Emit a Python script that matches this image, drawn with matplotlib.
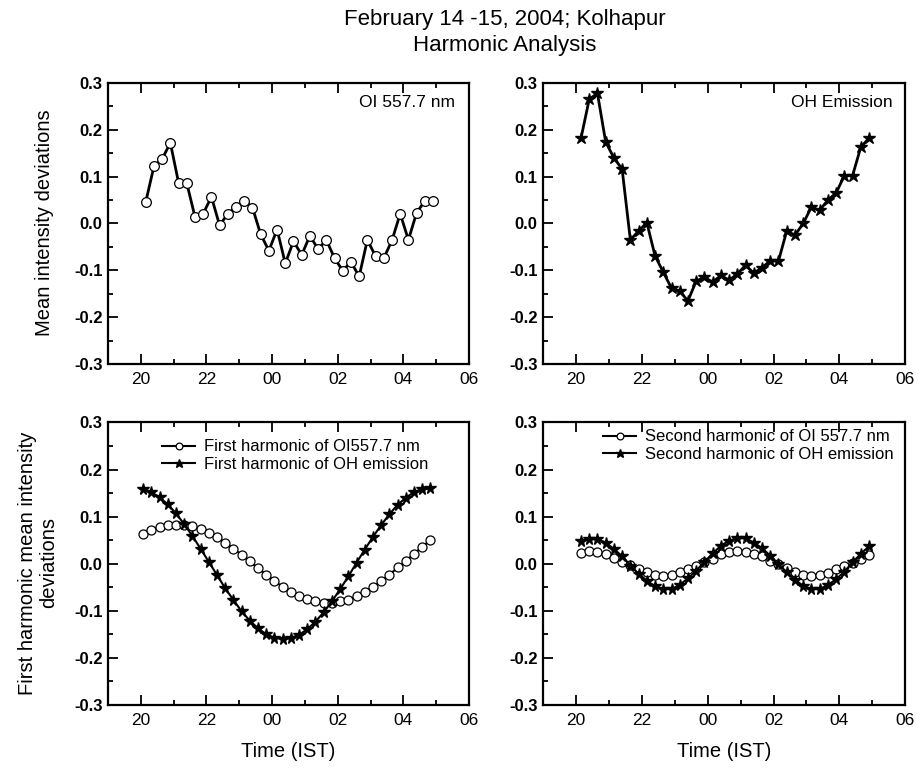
import matplotlib
matplotlib.use('Agg')
import matplotlib.pyplot as plt
from matplotlib.ticker import MultipleLocator, FixedLocator

plt.rcParams['font.family'] = ['Liberation Sans', 'DejaVu Sans']
plt.rcParams['axes.unicode_minus'] = False

# =========================================================
# DATA
# =========================================================

# observation times (hours IST, 24 = midnight)
TIME_IST = [20.15, 20.40, 20.65, 20.90, 21.15, 21.40, 21.65, 21.90, 22.15,
            22.40, 22.65, 22.90, 23.15, 23.40, 23.65, 23.90, 24.15, 24.40,
            24.65, 24.90, 25.15, 25.40, 25.65, 25.90, 26.15, 26.40, 26.65,
            26.90, 27.15, 27.40, 27.65, 27.90, 28.15, 28.40, 28.65, 28.90]

TIME_FIT1 = [20.07, 20.32, 20.57, 20.82, 21.07, 21.32, 21.57, 21.82, 22.07,
             22.32, 22.57, 22.82, 23.07, 23.32, 23.57, 23.82, 24.07, 24.32,
             24.57, 24.82, 25.07, 25.32, 25.57, 25.82, 26.07, 26.32, 26.57,
             26.82, 27.07, 27.32, 27.57, 27.82, 28.07, 28.32, 28.57, 28.82]

OI_DEV = [0.046, 0.122, 0.138, 0.172, 0.087, 0.086, 0.014, 0.021, 0.057,
          -0.004, 0.021, 0.035, 0.049, 0.034, -0.023, -0.058, -0.013, -0.085,
          -0.038, -0.067, -0.026, -0.055, -0.035, -0.074, -0.101, -0.082, -0.113,
          -0.035, -0.070, -0.074, -0.036, 0.021, -0.035, 0.023, 0.048, 0.047]

OH_DEV = [0.182, 0.265, 0.278, 0.174, 0.140, 0.116, -0.035, -0.016, 0.002,
          -0.069, -0.104, -0.138, -0.145, -0.165, -0.123, -0.115, -0.125, -0.111,
          -0.121, -0.108, -0.089, -0.106, -0.094, -0.080, -0.080, -0.016, -0.025,
          0.000, 0.035, 0.028, 0.050, 0.065, 0.102, 0.102, 0.163, 0.182]

OI_H1 = [0.063, 0.072, 0.078, 0.082, 0.083, 0.082, 0.079, 0.073, 0.066,
         0.056, 0.045, 0.032, 0.019, 0.005, -0.010, -0.023, -0.037, -0.049,
         -0.059, -0.068, -0.075, -0.080, -0.083, -0.083, -0.080, -0.076, -0.069,
         -0.060, -0.049, -0.037, -0.024, -0.008, 0.006, 0.021, 0.036, 0.050]

OH_H1 = [0.159, 0.152, 0.141, 0.126, 0.107, 0.084, 0.059, 0.032, 0.004,
         -0.024, -0.052, -0.077, -0.101, -0.121, -0.137, -0.150, -0.157, -0.160,
         -0.158, -0.151, -0.139, -0.123, -0.103, -0.080, -0.054, -0.027, 0.002,
         0.030, 0.057, 0.082, 0.105, 0.125, 0.140, 0.152, 0.158, 0.160]

OI_H2 = [0.023, 0.026, 0.024, 0.021, 0.013, 0.004, -0.003, -0.011, -0.018,
         -0.024, -0.026, -0.023, -0.017, -0.011, -0.004, 0.003, 0.010, 0.020,
         0.024, 0.026, 0.024, 0.021, 0.016, 0.006, -0.001, -0.010, -0.017,
         -0.023, -0.026, -0.023, -0.019, -0.012, -0.005, 0.002, 0.009, 0.018]

OH_H2 = [0.048, 0.052, 0.052, 0.045, 0.031, 0.016, -0.004, -0.021, -0.036,
         -0.048, -0.054, -0.054, -0.045, -0.031, -0.015, 0.004, 0.022, 0.038,
         0.049, 0.054, 0.054, 0.045, 0.033, 0.017, -0.001, -0.018, -0.034,
         -0.047, -0.054, -0.054, -0.045, -0.033, -0.017, 0.003, 0.021, 0.037]

X_TICKS = [20, 22, 24, 26, 28, 30]
X_TICK_LABELS = ['20', '22', '00', '02', '04', '06']
Y_TICKS = [-0.3, -0.2, -0.1, 0.0, 0.1, 0.2, 0.3]

# =========================================================
# HELPERS
# =========================================================

def style_axis(ax):
    ax.set_xlim(19, 30)
    ax.set_ylim(-0.3, 0.3)
    ax.xaxis.set_major_locator(FixedLocator(X_TICKS))
    ax.set_xticklabels(X_TICK_LABELS)
    ax.xaxis.set_minor_locator(MultipleLocator(1))
    ax.yaxis.set_major_locator(FixedLocator(Y_TICKS))
    ax.set_yticklabels([f'{v:.1f}' for v in Y_TICKS], fontweight='bold')
    ax.yaxis.set_minor_locator(MultipleLocator(0.05))
    ax.tick_params(which='both', direction='in', top=True, right=False,
                   width=1.3, labelsize=12)
    ax.tick_params(axis='x', labelsize=12.5)
    ax.tick_params(which='major', length=7)
    ax.tick_params(which='minor', length=3.5)
    ax.tick_params(axis='x', pad=6)
    ax.tick_params(axis='y', pad=4)
    for sp in ax.spines.values():
        sp.set_linewidth(1.6)


circle = dict(marker='o', mfc='white', mec='black', mew=0.9, color='black')
star = dict(marker='*', mfc='black', mec='black', color='black')

fig = plt.figure(figsize=(9.19, 7.68), dpi=100)
ax_tl = fig.add_axes([0.1175, 0.526, 0.393, 0.366])
ax_tr = fig.add_axes([0.591, 0.526, 0.394, 0.366])
ax_bl = fig.add_axes([0.1175, 0.082, 0.393, 0.368])
ax_br = fig.add_axes([0.591, 0.082, 0.394, 0.368])

# top-left: OI 557.7 nm
ax_tl.plot(TIME_IST, OI_DEV, lw=2.0, ms=7, **circle)
ax_tl.text(0.96, 0.93, 'OI 557.7 nm', transform=ax_tl.transAxes,
           ha='right', va='center', fontsize=12.5)

# top-right: OH emission
ax_tr.plot(TIME_IST, OH_DEV, lw=2.0, ms=9, **star)
ax_tr.text(0.965, 0.93, 'OH Emission', transform=ax_tr.transAxes,
           ha='right', va='center', fontsize=12.5)

leg_kw = dict(loc='upper left', frameon=False, fontsize=12, labelspacing=0.15,
              handlelength=2.0, handletextpad=0.5, borderpad=0, borderaxespad=0,
              markerscale=0.75, numpoints=1)

# bottom-left: first harmonics
ax_bl.plot(TIME_FIT1, OI_H1, lw=1.5, ms=6.5, label='First harmonic of OI557.7 nm', **circle)
ax_bl.plot(TIME_FIT1, OH_H1, lw=1.5, ms=8.5, label='First harmonic of OH emission', **star)
ax_bl.legend(bbox_to_anchor=(0.15, 0.94), **leg_kw)

# bottom-right: second harmonics
ax_br.plot(TIME_IST, OI_H2, lw=1.5, ms=6.5, label='Second harmonic of OI 557.7 nm', **circle)
ax_br.plot(TIME_IST, OH_H2, lw=1.5, ms=8.5, label='Second harmonic of OH emission', **star)
ax_br.legend(bbox_to_anchor=(0.165, 0.975), **leg_kw)

for ax in (ax_tl, ax_tr, ax_bl, ax_br):
    style_axis(ax)

for ax in (ax_bl, ax_br):
    ax.set_xlabel('Time (IST)', fontsize=14.5, labelpad=10)

fig.text(45 / 919, 1 - 223 / 768, 'Mean intensity deviations', rotation=90,
         ha='center', va='center', fontsize=14.5)
fig.text(38 / 919, 1 - 563 / 768, 'First harmonic mean intensity\ndeviations',
         rotation=90, ha='center', va='center', fontsize=14.5,
         multialignment='center', linespacing=1.1)

fig.text(505 / 919, 1 - 20 / 768, 'February 14 -15, 2004; Kolhapur',
         ha='center', va='center', fontsize=16)
fig.text(505 / 919, 1 - 45 / 768, 'Harmonic Analysis',
         ha='center', va='center', fontsize=16)

fig.savefig('out.png', dpi=100)
